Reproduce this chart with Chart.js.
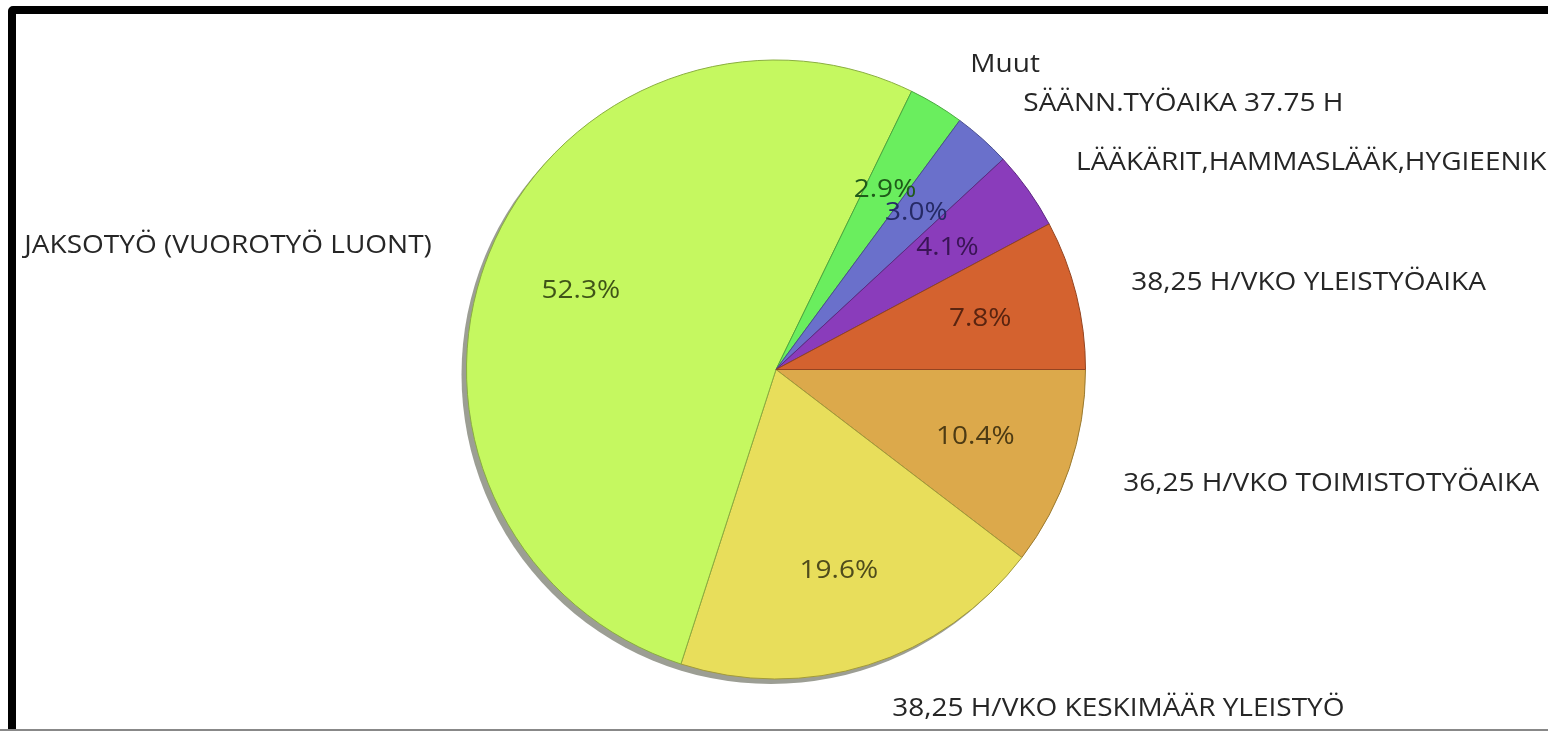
<!DOCTYPE html>
<html>
<head>
<meta charset="utf-8">
<script src="https://cdn.jsdelivr.net/npm/chart.js@4"></script>
<style>
  html, body { margin: 0; padding: 0; background: #fff; overflow: hidden; }
  #frame {
    position: absolute; left: 8px; top: 6px; width: 1600px; height: 800px;
    border: 8px solid #000; border-radius: 5px; box-sizing: border-box;
  }
  #bottomline { position: absolute; left: 0; top: 729px; width: 1548px; height: 2px; background: #888; }
  #wrap { position: absolute; left: 0; top: 0; width: 1548px; height: 731px; }
</style>
</head>
<body>
<div id="frame"></div>
<div id="wrap"><canvas id="pie"></canvas></div>
<div id="bottomline"></div>
<script>
// slices, clockwise from 3 o'clock
var labels = [
  "36,25 H/VKO TOIMISTOTYÖAIKA",
  "38,25 H/VKO KESKIMÄÄR YLEISTYÖ",
  "JAKSOTYÖ (VUOROTYÖ LUONT)",
  "Muut",
  "SÄÄNN.TYÖAIKA 37.75 H",
  "LÄÄKÄRIT,HAMMASLÄÄK,HYGIEENIK",
  "38,25 H/VKO YLEISTYÖAIKA"
];
var values = [10.4, 19.6, 52.3, 2.9, 3.0, 4.1, 7.8];
var colors = ["#dca94b", "#e8de5b", "#c5f860", "#6aee5e", "#6a70cb", "#8a3cbb", "#d4622f"];
var edgeColors = ["#9a7a30", "#a29a3a", "#8aae40", "#4aa840", "#4a4e90", "#5e2882", "#944420"];
var textColors = ["#4d3b14", "#4f4c1c", "#3f5418", "#1f5a1a", "#262a66", "#3a1456", "#5a2410"];

// text looks slightly wide in the original
function wideText(ctx, txt, x, y) {
  ctx.save();
  ctx.translate(x, y);
  ctx.scale(1.12, 1);
  ctx.fillText(txt, 0, 0);
  ctx.restore();
}

var shadowPlugin = {
  id: 'shadow',
  beforeDatasetsDraw: function(chart) {
    var arc = chart.getDatasetMeta(0).data[0];
    if (!arc) return;
    var ctx = chart.ctx;
    ctx.save();
    ctx.fillStyle = '#9c9e94';
    ctx.beginPath();
    ctx.arc(arc.x - 5, arc.y + 5, arc.outerRadius, 0, Math.PI * 2);
    ctx.fill();
    ctx.restore();
  }
};

var labelPlugin = {
  id: 'sliceLabels',
  afterDatasetsDraw: function(chart) {
    var ctx = chart.ctx;
    var arcs = chart.getDatasetMeta(0).data;
    ctx.save();
    ctx.textBaseline = 'middle';
    arcs.forEach(function(a, i) {
      var mid = (a.startAngle + a.endAngle) / 2;
      var r = a.outerRadius;
      // percent inside
      ctx.font = '25px "Open Sans"';
      ctx.textAlign = 'center';
      ctx.fillStyle = textColors[i];
      wideText(ctx, values[i].toFixed(1) + '%', a.x + Math.cos(mid) * r * 0.68, a.y + Math.sin(mid) * r * 0.68);
      // name outside
      ctx.font = '25px "Open Sans"';
      var ox = a.x + Math.cos(mid) * r * 1.15;
      var oy = a.y + Math.sin(mid) * r * 1.15;
      ctx.fillStyle = '#262626';
      if (Math.cos(mid) >= 0) {
        ctx.textAlign = 'left';
        wideText(ctx, labels[i], ox + 10, oy);
      } else {
        ctx.textAlign = 'right';
        wideText(ctx, labels[i], ox - 14, oy + 9);
      }
    });
    ctx.restore();
  }
};

new Chart(document.getElementById('pie'), {
  type: 'pie',
  data: {
    labels: labels,
    datasets: [{
      data: values,
      backgroundColor: colors,
      borderColor: edgeColors,
      borderWidth: 1
    }]
  },
  options: {
    responsive: true,
    maintainAspectRatio: false,
    animation: false,
    rotation: 90,
    layout: { padding: { top: 59, bottom: 51, left: 466, right: 462 } },
    plugins: {
      legend: { display: false },
      tooltip: { enabled: false }
    }
  },
  plugins: [shadowPlugin, labelPlugin]
});
</script>
</body>
</html>
